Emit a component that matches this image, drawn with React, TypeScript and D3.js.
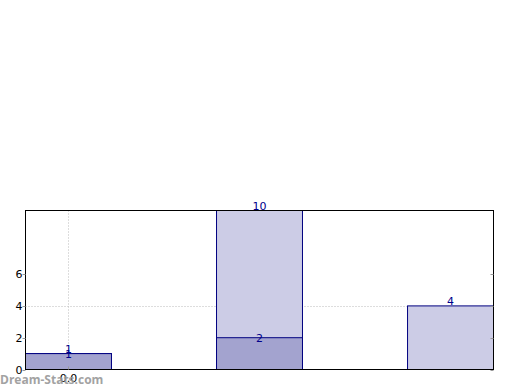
import React from "react";
import * as d3 from "d3";

const categories = [0, 1, 2];
const seriesBack = [1, 10, 4];
const seriesFront: (number | null)[] = [1, 2, null];
const yTicks = [0, 2, 4, 6];
const xTickLabels = ["0.0"];

const W = 520;
const H = 390;
const left = 25.5;
const right = 493.5;
const top = 210.5;
const bottom = 369.5;

export default function App() {
  const x = d3.scaleLinear().domain([-0.225, 2.225]).range([left, right]);
  const y = d3.scaleLinear().domain([0, 10]).range([bottom, top]);
  const bw = x(0.45) - x(0);
  const font = "DejaVu Sans, sans-serif";
  const navy = "#000080";
  return (
    <svg width={W} height={H} style={{ position: "absolute", left: 0, top: 0 }}>
      <rect x={0} y={0} width={W} height={H} fill="#fff" />
      {/* grid */}
      <line x1={left} x2={right} y1={Math.round(y(4)) + 0.5} y2={Math.round(y(4)) + 0.5} stroke="#bbb" strokeDasharray="1,2" />
      <line x1={Math.round(x(0)) + 0.5} x2={Math.round(x(0)) + 0.5} y1={top} y2={bottom} stroke="#bbb" strokeDasharray="1,2" />
      {/* back bars */}
      {categories.map((c, i) => (
        <rect key={"b" + i} x={x(c) - bw / 2} y={y(seriesBack[i])} width={bw} height={bottom - y(seriesBack[i])}
          fill="#ccccE6" stroke={navy} strokeWidth={1} />
      ))}
      {categories.map((c, i) => {
        const v = seriesFront[i];
        if (v == null) return null;
        return (
          <rect key={"f" + i} x={x(c) - bw / 2} y={y(v)} width={bw} height={bottom - y(v)}
            fill="#a3a3cf" stroke={navy} strokeWidth={1} />
        );
      })}
      {/* labels */}
      {categories.map((c, i) => (
        <text key={"lb" + i} x={x(c)} y={y(seriesBack[i]) - 1} textAnchor="middle" fontFamily={font} fontSize={11} fill="#00008b">
          {seriesBack[i]}
        </text>
      ))}
      {categories.map((c, i) => {
        const v = seriesFront[i];
        if (v == null) return null;
        return (
          <text key={"lf" + i} x={x(c)} y={y(v) + 4} textAnchor="middle" fontFamily={font} fontSize={11} fill="#00008b">
            {v}
          </text>
        );
      })}
      {/* frame */}
      <rect x={left} y={top} width={right - left} height={bottom - top} fill="none" stroke="#000" strokeWidth={1} />
      {/* y ticks */}
      {yTicks.map((t) => (
        <g key={"yt" + t}>
          <line x1={left - 3} x2={left} y1={Math.round(y(t)) + 0.5} y2={Math.round(y(t)) + 0.5} stroke="#999" />
          <line x1={right - 3} x2={right} y1={Math.round(y(t)) + 0.5} y2={Math.round(y(t)) + 0.5} stroke="#999" />
          <text x={left - 3} y={y(t) + 4} textAnchor="end" fontFamily={font} fontSize={11} fill="#000">{t}</text>
        </g>
      ))}
      {/* x tick */}
      <line x1={Math.round(x(0)) + 0.5} x2={Math.round(x(0)) + 0.5} y1={bottom - 3} y2={bottom} stroke="#999" />
      <text x={x(0)} y={382} textAnchor="middle" fontFamily={font} fontSize={11} fill="#000">{xTickLabels[0]}</text>
      {/* watermark */}
      <text x={0} y={384} fontFamily="Open Sans, DejaVu Sans, sans-serif" fontWeight="bold" fontSize={12} fill="#999" opacity={0.9}>Dream-Stats.com</text>
    </svg>
  );
}
